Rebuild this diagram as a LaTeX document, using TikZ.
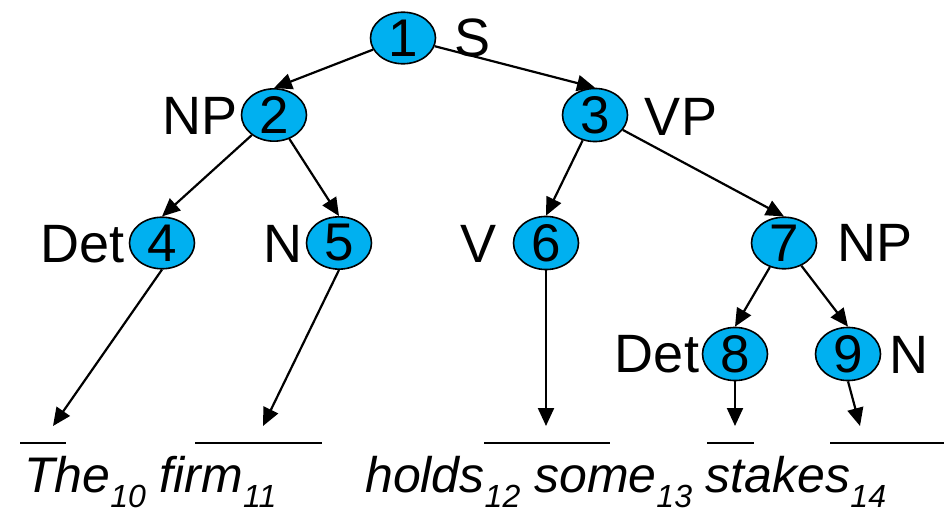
\documentclass[tikz,border=0pt]{standalone}
\usepackage{fontspec}
\setmainfont{Liberation Sans}
\usetikzlibrary{arrows.meta,shapes.geometric}
\definecolor{nodeblue}{RGB}{0,176,240}
\newcommand{\subnum}[1]{\raisebox{-15pt}{\fontsize{32}{32}\selectfont #1}}
\begin{document}
\begin{tikzpicture}[x=1pt,y=-1pt,
  tnode/.style={ellipse, draw=black, line width=1.6pt, fill=nodeblue, minimum width=65pt, minimum height=48pt, inner sep=0pt, font=\fontsize{53}{53}\selectfont},
  lab/.style={inner sep=0pt, font=\fontsize{54}{54}\selectfont},
  tedge/.style={line width=2.2pt, -{Triangle[length=18pt,width=16pt]}},
  leafline/.style={line width=1.6pt},
  word/.style={anchor=base west, inner sep=0pt, font=\fontsize{50}{50}\selectfont\itshape}
]
\useasboundingbox (0,0) rectangle (944,513);
% tree nodes
\node[tnode] (n1) at (403,38) {1};
\node[tnode] (n2) at (274,115) {2};
\node[tnode] (n3) at (595,115) {3};
\node[tnode] (n4) at (162,243) {4};
\node[tnode] (n5) at (339,243) {5};
\node[tnode] (n6) at (546,243) {6};
\node[tnode] (n7) at (784,243) {7};
\node[tnode] (n8) at (735,354) {8};
\node[tnode] (n9) at (848,354) {9};
% category labels
\node[lab] (l1) at (473,38) {S};
\node[lab] (l2) at (200,116) {NP};
\node[lab] (l3) at (681,117) {VP};
\node[lab] (l4) at (83,244) {Det};
\node[lab] (l5) at (283,244) {N};
\node[lab] (l6) at (479,244) {V};
\node[lab] (l7) at (875,243) {NP};
\node[lab] (l8) at (657,354) {Det};
\node[lab] (l9) at (909,355) {N};
% edges
\draw[tedge] (n1) -- (n2.north);
\draw[tedge] (n1) -- (n3.north);
\draw[tedge] (n2) -- (n4.north);
\draw[tedge] (n2) -- (n5.north);
\draw[tedge] (n3) -- (n6.north);
\draw[tedge] (n3) -- (n7.north);
\draw[tedge] (n7) -- (n8.north);
\draw[tedge] (n7) -- (n9.north);
% leaf arrows
\coordinate (t1) at (53,426);
\coordinate (t2) at (263,426);
\coordinate (t3) at (546,426);
\coordinate (t4) at (735,426);
\coordinate (t5) at (860,426);
\draw[tedge] (n4.south) -- (t1);
\draw[tedge] (n5.south) -- (t2);
\draw[tedge] (n6.south) -- (t3);
\draw[tedge] (n8.south) -- (t4);
\draw[tedge] (n9.south) -- (t5);
% blank lines
\draw[leafline] (20,443) -- (66,443);
\draw[leafline] (195,443) -- (322,443);
\draw[leafline] (484,443) -- (610,443);
\draw[leafline] (707,443) -- (754,443);
\draw[leafline] (830,443) -- (944,443);
% words
\node[word] (w1) at (24,492) {The\subnum{10} firm\subnum{11}};
\node[word] (w2) at (365,492) {holds\subnum{12} some\subnum{13} stakes\subnum{14}};
\end{tikzpicture}
\end{document}
